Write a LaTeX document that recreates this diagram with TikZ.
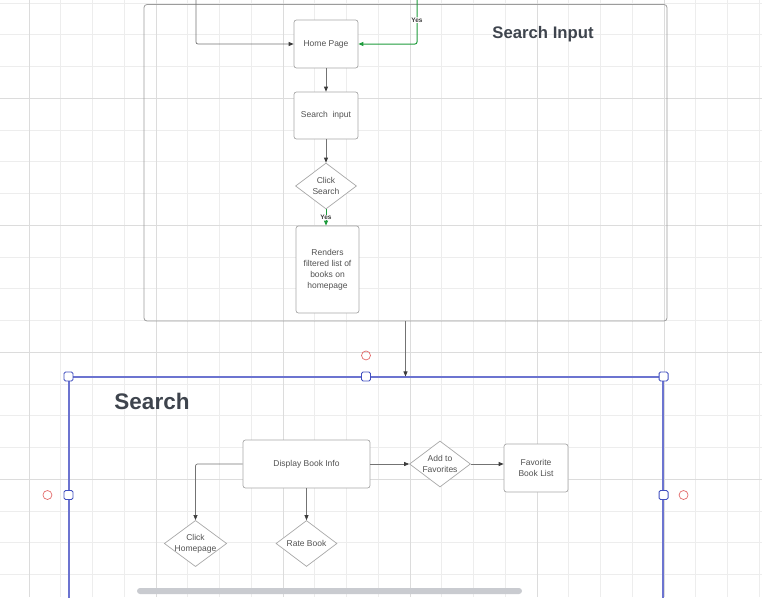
\documentclass[tikz,border=0pt]{standalone}
\usepackage{fontspec}
\setmainfont{Liberation Sans}
\usepackage{xcolor}
\usetikzlibrary{arrows.meta,positioning,shapes.geometric}
\definecolor{sgGridMinor}{HTML}{EDEDED}
\definecolor{sgGridMajor}{HTML}{DCDCDC}
\definecolor{sgFrame}{HTML}{9C9C9C}
\definecolor{sgBorder}{HTML}{A8A8A8}
\definecolor{sgText}{HTML}{525252}
\definecolor{sgTitle}{HTML}{3E444D}
\definecolor{sgLine}{HTML}{737373}
\definecolor{sgTip}{HTML}{3C3C3C}
\definecolor{sgGreen}{HTML}{1E9B3C}
\definecolor{sgBlue}{HTML}{6C74D0}
\definecolor{sgHandle}{HTML}{4250C0}
\definecolor{sgRed}{HTML}{E26A6A}
\definecolor{sgScroll}{HTML}{C9CBD0}

\begin{document}
\begin{tikzpicture}[
    x=1pt,y=-1pt,
    font=\fontsize{8.5}{11}\selectfont,
    box/.style={draw=sgBorder,fill=white,rounded corners=2.5pt,line width=0.7pt,
                inner sep=0pt,align=center,text=sgText},
    choice/.style={diamond,aspect=1.35,draw=sgBorder,fill=white,line width=0.7pt,
                   inner sep=-1pt,minimum width=61pt,minimum height=46pt,align=center,text=sgText},
    frame/.style={draw=sgFrame,rounded corners=3pt,line width=0.8pt,inner sep=0pt},
    sel/.style={draw=sgBlue,line width=1.1pt,inner sep=0pt},
    handle/.style={draw=sgHandle,fill=white,rounded corners=1.5pt,line width=0.9pt,
                   minimum size=9pt,inner sep=0pt},
    rot/.style={circle,draw=sgRed,line width=0.7pt,minimum size=9pt,inner sep=0pt},
    ttl/.style={text=sgTitle,font=\bfseries\fontsize{16.7}{18}\selectfont},
    yes/.style={fill=white,text=sgTip,font=\bfseries\fontsize{6.5}{7}\selectfont,inner sep=0.5pt},
    ar/.style={-{Triangle[length=5pt,width=4pt,color=sgTip]},draw=sgLine,line width=0.7pt},
    arG/.style={-{Triangle[length=5pt,width=4pt]},draw=sgGreen,line width=1pt}
  ]
    \useasboundingbox (0,0) rectangle (762,597);
    \clip (0,0) rectangle (762,597);

    % canvas grid
    \foreach \i in {0,...,24}
      \draw[sgGridMinor,line width=0.8pt] ({-2.75+\i*31.75},0) -- ({-2.75+\i*31.75},597);
    \foreach \i in {0,...,18}
      \draw[sgGridMinor,line width=0.8pt] (0,{3+\i*31.75}) -- (762,{3+\i*31.75});
    \foreach \x in {29,156,283,410,537,664}
      \draw[sgGridMajor,line width=0.8pt] (\x,0) -- (\x,597);
    \foreach \y in {98.25,225.25,352.25,479.25}
      \draw[sgGridMajor,line width=0.8pt] (0,\y) -- (762,\y);

    % containers
    \node[frame,minimum width=523pt,minimum height=316.5pt] (inputFrame) at (405.5,162.75) {};
    \node[ttl] at (543,34) {Search Input};
    \node[sel,minimum width=594pt,minimum height=236pt] (searchFrame) at (366,495) {};
    \node[ttl,font=\bfseries\fontsize{22.5}{24}\selectfont] at (152,401) {Search};

    % search input flow
    \node[box,minimum width=64pt,minimum height=48pt] (home)    at (326,44)    {Home Page};
    \node[box,minimum width=64pt,minimum height=47pt] (input)   at (326,115.5) {Search\ \ input};
    \node[choice] (clickSearch) at (326,186) {Click\\Search};
    \node[box,minimum width=63pt,minimum height=87pt] (renders) at (327.5,269.5)
         {Renders\\filtered list of\\books on\\homepage};

    % search flow
    \node[box,minimum width=127pt,minimum height=48pt] (display) at (306.5,464) {Display Book Info};
    \node[choice] (clickHome) at (195.5,543.5) {Click\\Homepage};
    \node[choice] (rate)      at (306.5,543.5) {Rate Book};
    \node[choice] (addFav)    at (440,464)     {Add to\\Favorites};
    \node[box,minimum width=64pt,minimum height=48pt] (favList) at (536,468) {Favorite\\Book List};

    \coordinate (inL) at (196,-2);
    \coordinate (inG) at (417,-2);
    \draw[ar,rounded corners=2pt] (inL) |- (home.west);
    \draw[arG,rounded corners=2pt] (inG) |- node[yes,pos=0.24] {Yes} (home.east);
    \draw[ar] (home.south)  -- (input.north);
    \draw[ar] (input.south) -- (clickSearch.north);
    \draw[arG] (clickSearch.south) -- node[yes] {Yes} (clickSearch.south |- renders.north);
    \draw[ar] (inputFrame.south) -- (inputFrame.south |- searchFrame.north);
    \draw[ar,rounded corners=2pt] (display.west) -| (clickHome.north);
    \draw[ar] (display.south) -- (rate.north);
    \draw[ar] (display.east)  -- (addFav.west);
    \draw[ar] (addFav.east)   -- (addFav.east -| favList.west);

    % selection handles
    \foreach \a in {north west,north,north east,west,east}
      \node[handle] at (searchFrame.\a) {};
    \node[rot] (rotTop)   at ([yshift=21pt]searchFrame.north) {};
    \node[rot] (rotLeft)  at ([xshift=-21pt]searchFrame.west) {};
    \node[rot] (rotRight) at ([xshift=20pt]searchFrame.east) {};

    \node[fill=sgScroll,rounded corners=3pt,minimum width=385pt,minimum height=6pt,
          inner sep=0pt] (scroll) at (329.5,591) {};
  \end{tikzpicture}
\end{document}
